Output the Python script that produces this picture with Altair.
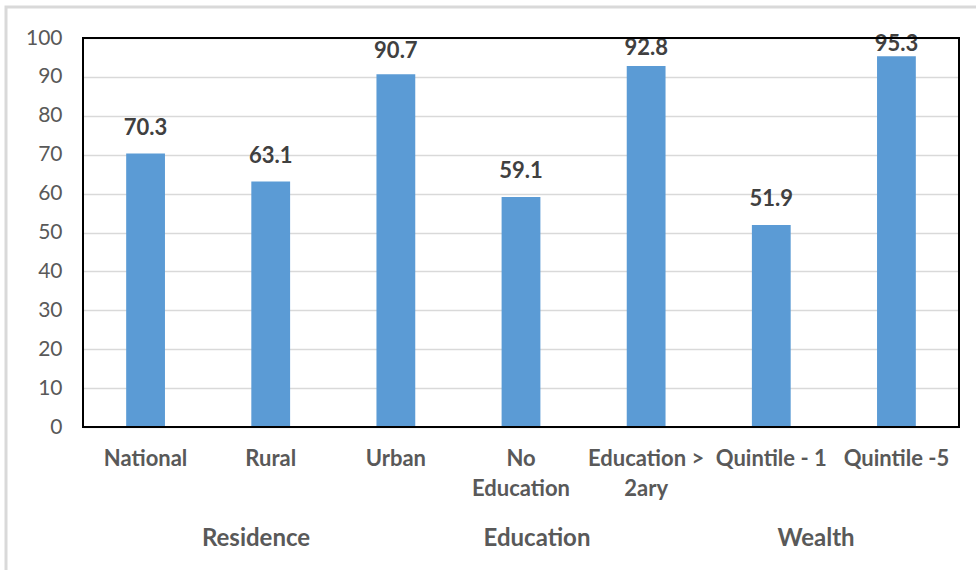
import altair as alt
import pandas as pd

categories = ["National", "Rural", "Urban", "No|Education", "Education >|2ary", "Quintile - 1", "Quintile -5"]
values = [70.3, 63.1, 90.7, 59.1, 92.8, 51.9, 95.3]
groups = ["Residence", "Education", "Wealth"]
y_ticks = [0, 10, 20, 30, 40, 50, 60, 70, 80, 90, 100]

df = pd.DataFrame({"cat": categories, "value": values})

FONT = "Lato"
W, H = 876, 389

x_axis = alt.Axis(title=None, labelExpr="split(datum.label, '|')",
                  labelFont=FONT, labelFontSize=22, labelFontWeight="bold",
                  labelColor="#595959", labelLineHeight=30, labelPadding=21,
                  labelAngle=0, ticks=False, domain=False, labelLimit=200,
                  labelOverlap=False)
y_axis = alt.Axis(title=None, values=y_ticks, labelFont=FONT, labelFontSize=21,
                  labelColor="#595959", labelPadding=21, ticks=False, domain=False,
                  gridColor="#d9d9d9", gridWidth=1.5, labelOverlap=False,
                  labelFlush=False)
x_scale = alt.Scale(paddingInner=0.69, paddingOuter=0.345)
y_scale = alt.Scale(domain=[0, 100], nice=False)

base = alt.Chart(df)
bars = base.mark_bar(color="#5B9BD5").encode(
    x=alt.X("cat:N", sort=categories, scale=x_scale, axis=x_axis),
    y=alt.Y("value:Q", scale=y_scale, axis=y_axis))

labels = base.transform_calculate(
    ly="min(datum.value, 89.7 + 0.4 * (datum.value - 90))"
).mark_text(font=FONT, fontSize=22, fontWeight="bold", color="#404040",
            baseline="alphabetic", dy=-19).encode(
    x=alt.X("cat:N", sort=categories, scale=x_scale, axis=x_axis),
    y=alt.Y("ly:Q", scale=y_scale, axis=y_axis),
    text=alt.Text("value:Q", format=".1f"))

group_x = [173, 454, 733]
glayers = []
for g, gx in zip(groups, group_x):
    glayers.append(
        alt.Chart(pd.DataFrame({"g": [g]})).mark_text(
            font=FONT, fontSize=24, fontWeight="bold", color="#595959", baseline="alphabetic"
        ).encode(x=alt.value(gx), y=alt.value(508), text="g:N")
    )

frame = alt.Chart(pd.DataFrame({"a": [0]})).mark_rect(
    fill=None, stroke="#d9d9d9", strokeWidth=3
).encode(x=alt.value(-77), x2=alt.value(1000), y=alt.value(-31), y2=alt.value(600))

border = alt.Chart(pd.DataFrame({"a": [0]})).mark_rect(
    fill=None, stroke="black", strokeWidth=2
).encode(x=alt.value(0), x2=alt.value(W), y=alt.value(0), y2=alt.value(H))

chart = alt.layer(frame, bars, labels, border, *glayers).properties(
    width=W, height=H,
    autosize=alt.AutoSizeParams(type="none"),
    padding={"left": 83, "top": 38, "right": 17, "bottom": 143},
).configure_view(stroke=None).configure(background="white")

chart.save("out.html", embed_options={"renderer": "svg", "actions": False})
